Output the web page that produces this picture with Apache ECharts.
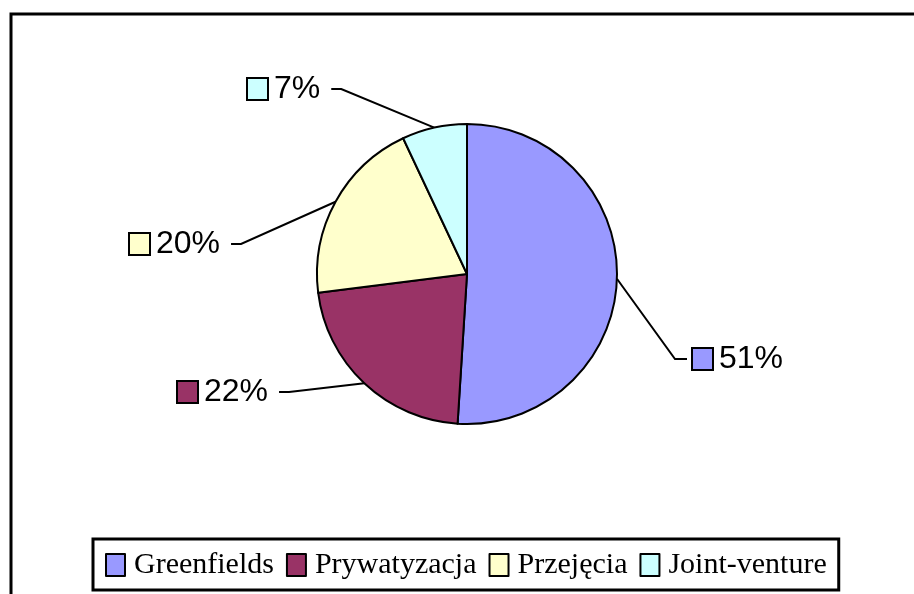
<!DOCTYPE html>
<html>
<head>
<meta charset="utf-8">
<script src="https://cdn.jsdelivr.net/npm/echarts@6/dist/echarts.min.js"></script>
<style>
  html, body { margin: 0; padding: 0; background: #fff; }
  #chart { width: 914px; height: 594px; }
</style>
</head>
<body>
<div id="chart"></div>
<script>
const categories = ['Greenfields', 'Prywatyzacja', 'Przejęcia', 'Joint-venture']
const shares = [51, 22, 20, 7]
const sliceColors = ['#9999FF', '#993366', '#FFFFCC', '#CCFFFF']

// where each percentage label sits (left edge of its key box, vertical middle)
const labelAnchors = [[693, 359], [178, 392], [130, 244], [248, 89]]

const rich = {
  t: { fontFamily: 'Liberation Sans', fontSize: 32, color: '#000', padding: [0, 0, 0, 7] }
}
sliceColors.forEach((c, i) => {
  rich['m' + i] = { width: 19, height: 20, backgroundColor: c, borderColor: '#000', borderWidth: 2 }
})

const chart = echarts.init(document.getElementById('chart'))
chart.setOption({
  animation: false,
  backgroundColor: '#fff',
  graphic: [{
    type: 'rect',
    shape: { x: 11, y: 14, width: 920, height: 600 },
    style: { fill: 'none', stroke: '#000', lineWidth: 3 },
    silent: true
  }],
  legend: {
    data: categories,
    left: 93,
    top: 539,
    padding: [11, 12, 10, 12],
    borderColor: '#000',
    borderWidth: 3,
    itemWidth: 19,
    itemHeight: 22,
    itemGap: 12,
    icon: 'rect',
    selectedMode: false,
    itemStyle: { borderColor: '#000', borderWidth: 2 },
    textStyle: { fontFamily: 'Liberation Serif', fontSize: 30, color: '#000', padding: [0, 0, 0, 4] }
  },
  series: [{
    type: 'pie',
    center: [467, 274],
    radius: 150,
    startAngle: 90,
    clockwise: true,
    avoidLabelOverlap: false,
    emphasis: { disabled: true },
    itemStyle: { borderColor: '#000', borderWidth: 2 },
    label: {
      show: true,
      position: 'outside',
      formatter: p => `{m${p.dataIndex}|}{t|${p.value}%}`,
      rich: rich
    },
    labelLine: { show: true, lineStyle: { color: '#000', width: 2 } },
    labelLayout: params => {
      const i = params.dataIndex
      const [x, y] = labelAnchors[i]
      const w = params.labelRect.width
      const onRight = x > 467
      const start = params.labelLinePoints ? params.labelLinePoints[0] : [467, 274]
      let end, bend
      if (onRight) {
        end = [x - 6, y]
        bend = [end[0] - 12, y]
      } else {
        end = [x + w + 9, y]
        bend = [end[0] + 10, y]
      }
      return { x: x, y: y, align: 'left', verticalAlign: 'middle', labelLinePoints: [start, bend, end] }
    },
    data: categories.map((name, i) => ({
      name: name,
      value: shares[i],
      itemStyle: { color: sliceColors[i] }
    }))
  }]
})
</script>
</body>
</html>
